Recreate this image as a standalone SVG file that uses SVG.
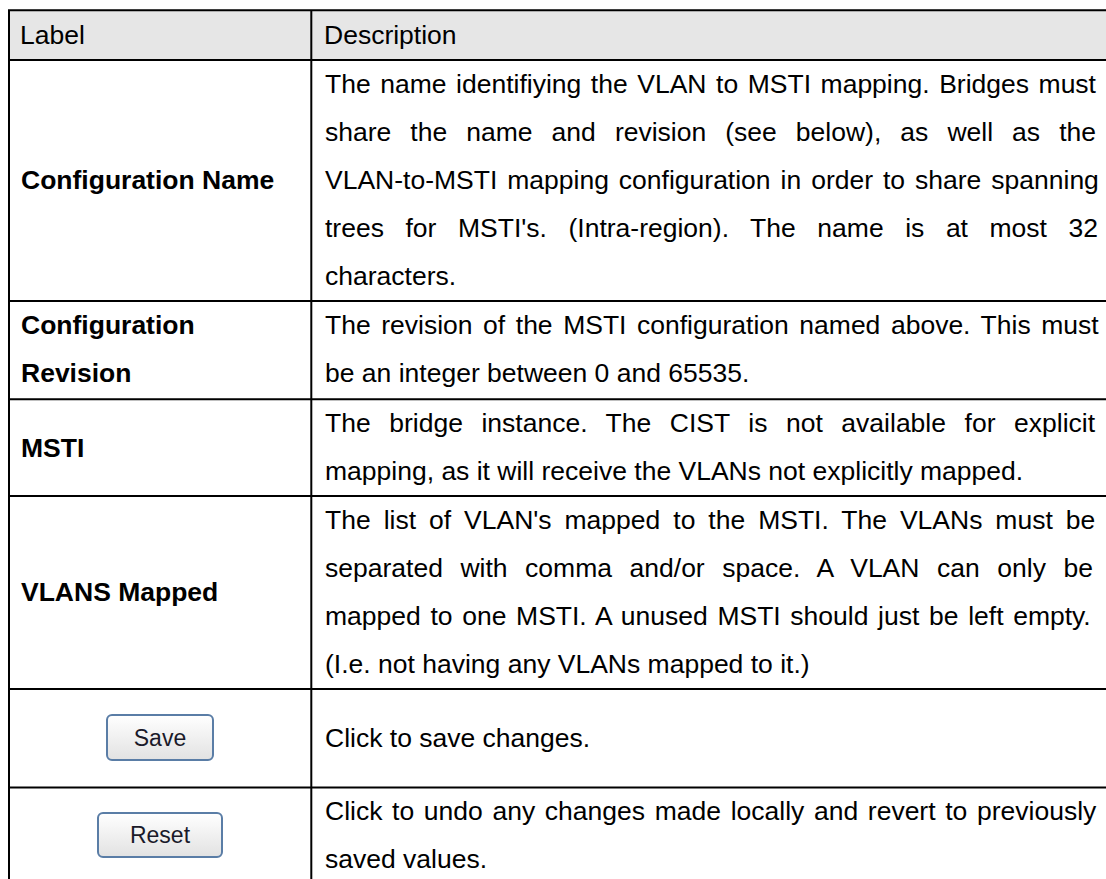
<svg xmlns="http://www.w3.org/2000/svg" width="1106" height="879" viewBox="0 0 1106 879">
<style>
.t{font-family:"Liberation Sans",Arial,sans-serif;font-size:26.5px;fill:#000}
.b{font-weight:bold}
.ln{stroke:#000;stroke-width:2;fill:none}
.btn{fill:url(#bg);stroke:#5a7da6;stroke-width:2}
.bt{font-family:"Liberation Sans",Arial,sans-serif;font-size:23px;fill:#1a1a2a;text-anchor:middle}
</style>
<defs>
<linearGradient id="bg" x1="0" y1="0" x2="0" y2="1">
<stop offset="0" stop-color="#ffffff"/>
<stop offset="1" stop-color="#e2e2e2"/>
</linearGradient>
</defs>
<rect x="0" y="0" width="1106" height="879" fill="#fff"/>
<rect x="9" y="10.3" width="1097" height="49.7" fill="#e6e6e6"/>
<g id="grid">
<path class="ln" d="M8 10.3H1106M8 60H1106M8 301H1106M8 399.3H1106M8 496H1106M8 689H1106M8 787.5H1106M9 9.3V879M311.3 10.3V879"/>
</g>
<g id="header">
<text class="t" x="20" y="44">Label</text>
<text class="t" x="324" y="44">Description</text>
</g>
<g id="row-config-name">
<text class="t b" x="21" y="189">Configuration Name</text>
<text class="t" x="325" y="93" word-spacing="2.2">The name identifiying the VLAN to MSTI mapping. Bridges must</text>
<text class="t" x="325" y="141" word-spacing="11.7">share the name and revision (see below), as well as the</text>
<text class="t" x="325" y="189" word-spacing="2.6">VLAN-to-MSTI mapping configuration in order to share spanning</text>
<text class="t" x="325" y="237" word-spacing="14.2">trees for MSTI's. (Intra-region). The name is at most 32</text>
<text class="t" x="325" y="285">characters.</text>
</g>
<g id="row-config-revision">
<text class="t b" x="21" y="334">Configuration</text>
<text class="t b" x="21" y="382">Revision</text>
<text class="t" x="325" y="334" word-spacing="3.2">The revision of the MSTI configuration named above. This must</text>
<text class="t" x="325" y="382">be an integer between 0 and 65535.</text>
</g>
<g id="row-msti">
<text class="t b" x="21" y="457">MSTI</text>
<text class="t" x="325" y="432" word-spacing="11.2">The bridge instance. The CIST is not available for explicit</text>
<text class="t" x="325" y="480">mapping, as it will receive the VLANs not explicitly mapped.</text>
</g>
<g id="row-vlans-mapped">
<text class="t b" x="21" y="601">VLANS Mapped</text>
<text class="t" x="325" y="529" word-spacing="5.6">The list of VLAN's mapped to the MSTI. The VLANs must be</text>
<text class="t" x="325" y="577" word-spacing="10.2">separated with comma and/or space. A VLAN can only be</text>
<text class="t" x="325" y="625" word-spacing="2.3">mapped to one MSTI. A unused MSTI should just be left empty.</text>
<text class="t" x="325" y="673">(I.e. not having any VLANs mapped to it.)</text>
</g>
<g id="row-save">
<rect class="btn" x="107" y="715" width="106" height="45" rx="5"/>
<text class="bt" x="160" y="745.5">Save</text>
<text class="t" x="325" y="747">Click to save changes.</text>
</g>
<g id="row-reset">
<rect class="btn" x="98" y="813" width="124" height="44" rx="5"/>
<text class="bt" x="160" y="843">Reset</text>
<text class="t" x="325" y="820" word-spacing="2.3">Click to undo any changes made locally and revert to previously</text>
<text class="t" x="325" y="868">saved values.</text>
</g>
</svg>
